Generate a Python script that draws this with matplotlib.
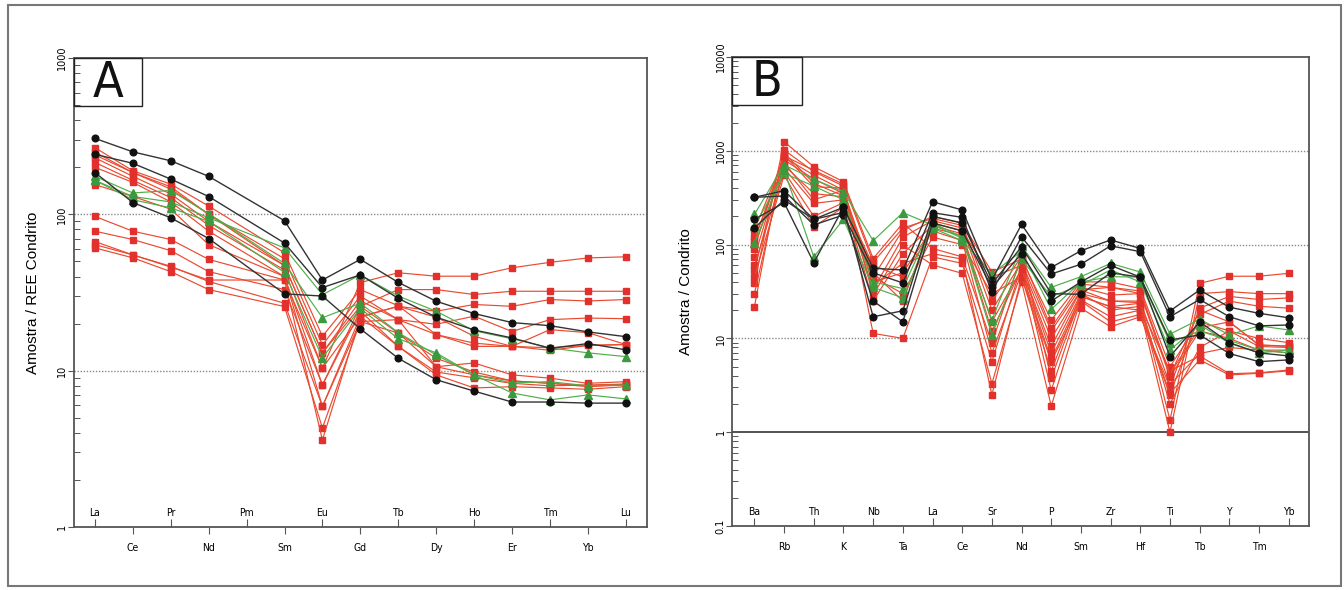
import matplotlib.pyplot as plt
import numpy as np
from matplotlib.patches import Rectangle
from matplotlib.ticker import LogLocator, NullFormatter, FuncFormatter

# ---- panel A: REE normalised to chondrite (Pm not analysed)
ree_ticks = ['La', 'Ce', 'Pr', 'Nd', 'Pm', 'Sm', 'Eu', 'Gd', 'Tb', 'Dy', 'Ho', 'Er', 'Tm', 'Yb', 'Lu']
ree_used = ['La', 'Ce', 'Pr', 'Nd', 'Sm', 'Eu', 'Gd', 'Tb', 'Dy', 'Ho', 'Er', 'Tm', 'Yb', 'Lu']

ree_black = [
    [306, 251, 220, 175, 91, 38, 51.5, 36.7, 27.8, 23.2, 20.3, 19.4, 17.7, 16.5],
    [242, 212, 168, 130, 65.5, 34, 41, 29, 22, 18.2, 16.2, 13.9, 14.9, 13.6],
    [185, 119, 95, 70, 31, 30, 18.5, 12, 8.75, 7.4, 6.3, 6.3, 6.2, 6.2],
]
ree_green = [
    [165, 130, 120, 95, 61, 30.6, 41, 30, 24, 18, 16, 14, 13, 12.3],
    [175, 137, 142, 101, 48.5, 21.8, 27, 17.5, 12.6, 9.4, 8.35, 8.5, 8.0, 8.1],
    [165, 124, 110, 90, 42.5, 12.1, 25, 16, 13, 9.4, 7.2, 6.5, 7.0, 6.6],
]
ree_red = [
    [97, 78, 69, 51.5, 38, 10.4, 36.6, 42.3, 40.2, 40.2, 45.5, 49.3, 52.6, 53.5],
    [78, 69, 58.6, 43, 33, 8.1, 25.8, 33, 33, 30.7, 32.2, 32.2, 32.2, 32.2],
    [67, 55, 46.5, 37.2, 27, 5.9, 22.2, 25.8, 24, 26.5, 25.8, 28.5, 27.9, 28.5],
    [61, 52.7, 43, 33, 25.7, 4.3, 20.6, 21.2, 19.8, 22.3, 17.8, 21.2, 21.7, 21.5],
    [64, 55, 46, 38, 38, 3.6, 22, 25.8, 22, 16.6, 14.3, 18.3, 17.5, 14.7],
    [267, 190, 156, 113, 56.8, 16.6, 33, 26, 17, 15, 14.3, 13.5, 14.5, 14.7],
    [250, 185, 150, 100, 52, 14.6, 30, 21.2, 10.6, 11.2, 9.4, 8.95, 8.3, 8.5],
    [230, 175, 135, 90, 47, 13, 25.8, 17.4, 10.6, 9.4, 8.6, 8.3, 8.0, 8.2],
    [215, 165, 128, 85, 44, 10.4, 22.2, 14.3, 9.4, 7.75, 7.9, 7.75, 7.6, 7.9],
    [200, 160, 120, 78, 40, 8.1, 24, 14.3, 9.8, 9.0, 8.3, 8.0, 8.1, 8.2],
    [155, 130, 108, 64, 40, 5.9, 20.6, 17.4, 12, 9.8, 8.6, 8.3, 7.9, 8.1],
    [240, 185, 145, 100, 47, 13, 28, 21.2, 17, 14.3, 14.3, 14, 14.5, 14.7],
]

# ---- panel B: multi-element spider diagram normalised to chondrite
spider_ticks = ['Ba', 'Rb', 'Th', 'K', 'Nb', 'Ta', 'La', 'Ce', 'Sr', 'Nd',
                'P', 'Sm', 'Zr', 'Hf', 'Ti', 'Tb', 'Y', 'Tm', 'Yb']

spider_black = [
    [319, 376, 186, 250, 56, 53.6, 286, 234, 42, 164, 57, 86, 112, 91, 19.6, 32.8, 21.5, 18.5, 16.6],
    [319, 330, 162, 207, 50, 39, 219, 195, 31.5, 121, 48.6, 61.7, 97, 84, 17, 26, 17, 13.6, 13.9],
    [186, 280, 64, 250, 17, 19.7, 200, 170, 38, 95, 30, 29.5, 50, 45, 9.6, 10.9, 6.9, 5.65, 5.9],
    [150, 300, 186, 220, 25, 15, 170, 140, 35, 80, 25, 40, 60, 45, 6.4, 15, 9, 7, 6.5],
]
spider_green = [
    [210, 707, 497, 366, 110, 219, 162, 117, 15.7, 97, 35, 45.5, 63, 51, 11.1, 16, 10.9, 13.6, 12.3],
    [158, 576, 420, 300, 40, 34, 170, 120, 10.9, 70, 27.9, 37, 53.6, 40, 7.5, 14, 8.9, 7.0, 7.5],
    [103, 620, 74, 186, 35, 27, 150, 110, 49, 85, 20.4, 40, 45.5, 45, 9, 12, 9.5, 7.5, 7.0],
]
spider_red = [
    [38.6, 1250, 676, 468, 71, 169, 91, 74, 8.9, 77, 3.76, 28, 21.8, 23.7, 1.35, 38.6, 46, 46, 49.4],
    [21.8, 1020, 600, 420, 11.3, 10, 74, 63, 5.65, 60, 2.8, 25.7, 17, 20, 1.0, 30, 31.5, 30, 30],
    [54, 900, 414, 400, 29, 99, 60.6, 49.4, 3.3, 40, 1.9, 21, 13.3, 17, 3.06, 21, 28, 26, 27],
    [74, 800, 500, 350, 37, 63, 80, 70, 2.5, 45, 5.65, 25, 15, 18, 2.5, 18, 25, 22, 21],
    [143, 850, 550, 380, 45, 143, 199, 169, 51, 70, 15.7, 40, 40, 34, 5, 15, 12, 8.2, 8],
    [120, 700, 350, 323, 33, 120, 180, 150, 20, 65, 12, 35, 29, 30, 3.9, 12, 10, 7.5, 7.5],
    [100, 650, 275, 300, 25, 80, 160, 130, 15, 55, 8.2, 32.8, 25, 25, 3.2, 6.9, 8, 7.5, 7],
    [60, 600, 200, 280, 60, 45, 140, 110, 7, 50, 6, 28, 21.8, 20, 2.6, 5.9, 4.07, 4.25, 4.5],
    [45, 550, 155, 250, 45, 30, 120, 100, 30, 45, 4.5, 30, 20, 22, 4.5, 6.5, 4.2, 4.3, 4.6],
    [90, 950, 450, 330, 50, 25, 170, 140, 45, 60, 10, 33, 35, 30, 4.2, 13, 15, 8.5, 8.3],
    [30, 750, 300, 380, 40, 50, 150, 125, 12, 55, 7, 30, 25, 24, 2, 8, 12, 10, 9],
    [110, 880, 620, 440, 65, 150, 190, 160, 25, 75, 13, 38, 35, 32, 4, 20, 15, 8.5, 8.2],
]

RED, RED_LINE = '#e2302c', '#ea4a30'
GREEN, GREEN_LINE = '#3c9a3e', '#4fae4a'
BLACK, BLACK_LINE = '#111111', '#333333'
FRAME = '#555555'


def draw_panel(ax, ticks, used, reds, greens, blacks, ylim, xlim, letter, ylabel, grid, box_w, lpad):
    x = [ticks.index(e) for e in used]
    for s in reds:
        ax.plot(x, s, color=RED_LINE, lw=0.85, marker='s', ms=4.8,
                mfc=RED, mec=RED, zorder=3)
    for s in greens:
        ax.plot(x, s, color=GREEN_LINE, lw=0.85, marker='^', ms=5.5,
                mfc=GREEN, mec=GREEN, zorder=4)
    for s in blacks:
        ax.plot(x, s, color=BLACK_LINE, lw=1.0, marker='o', ms=4.8,
                mfc=BLACK, mec=BLACK, zorder=5)

    ax.set_yscale('log')
    ax.set_ylim(*ylim)
    ax.set_xlim(*xlim)

    for g in grid:
        ax.axhline(g, color='#8a8a8a', lw=1.0, ls=(0, (1, 1.2)), zorder=1)

    # y axis
    ax.yaxis.set_major_locator(LogLocator(base=10, numticks=10))
    ax.yaxis.set_minor_locator(LogLocator(base=10, subs=np.arange(2, 10), numticks=50))
    ax.yaxis.set_minor_formatter(NullFormatter())
    ax.yaxis.set_major_formatter(FuncFormatter(lambda v, p: '%g' % v))
    ax.tick_params(axis='y', which='major', direction='out', length=4, width=0.8,
                   labelsize=7, labelrotation=90, pad=1, color=FRAME)
    ax.tick_params(axis='y', which='minor', direction='in', length=4, width=0.7, color=FRAME)
    for lab in ax.get_yticklabels():
        lab.set_va('center')
    ax.set_ylabel(ylabel, fontsize=11, family='Liberation Sans', labelpad=lpad)

    # x axis: alternate labels inside / outside
    ev = list(range(0, len(ticks), 2))
    od = list(range(1, len(ticks), 2))
    ax.set_xticks(ev)
    ax.set_xticklabels([ticks[i] for i in ev])
    ax.set_xticks(od, minor=True)
    ax.set_xticklabels([ticks[i] for i in od], minor=True)
    ax.tick_params(axis='x', which='major', direction='in', length=6, width=0.8,
                   pad=-13.5, labelsize=7.5, color=FRAME)
    ax.tick_params(axis='x', which='minor', direction='out', length=5, width=0.8,
                   pad=6.5, labelsize=7.5, color=FRAME)
    for lab in ax.get_xticklabels() + ax.get_xticklabels(minor=True):
        lab.set_fontstretch('condensed')

    for sp in ax.spines.values():
        sp.set_color(FRAME)
        sp.set_linewidth(1.3)

    # panel letter box
    ax.add_patch(Rectangle((0, 0.898), box_w, 0.102, transform=ax.transAxes,
                           fill=False, ec='#222222', lw=1.0, zorder=6, clip_on=False))
    ax.text(box_w / 2, 0.947, letter, transform=ax.transAxes, ha='center', va='center',
            fontsize=36, fontstretch='condensed', color='#111111', zorder=7)


fig = plt.figure(figsize=(13.44, 5.9), dpi=100)
fig.patch.set_facecolor('white')

axA = fig.add_axes([0.0551, 0.1068, 0.4263, 0.7949])
axB = fig.add_axes([0.5450, 0.1085, 0.4293, 0.7949])

draw_panel(axA, ree_ticks, ree_used, ree_red, ree_green, ree_black,
           (1, 1000), (-0.55, 14.56), 'A', 'Amostra / REE Condrito', [10, 100], 0.119, 12)
draw_panel(axB, spider_ticks, spider_ticks, spider_red, spider_green, spider_black,
           (0.1, 10000), (-0.74, 18.7), 'B', 'Amostra / Condrito', [10, 100, 1000], 0.121, 16)
axB.axhline(1, color='#222222', lw=1.1, zorder=2)

# outer frame around the whole figure
fig.patches.append(Rectangle((0.006, 0.007), 0.9915, 0.985, transform=fig.transFigure,
                             fill=False, ec='#777777', lw=1.5))

fig.savefig('out.png', dpi=100)
